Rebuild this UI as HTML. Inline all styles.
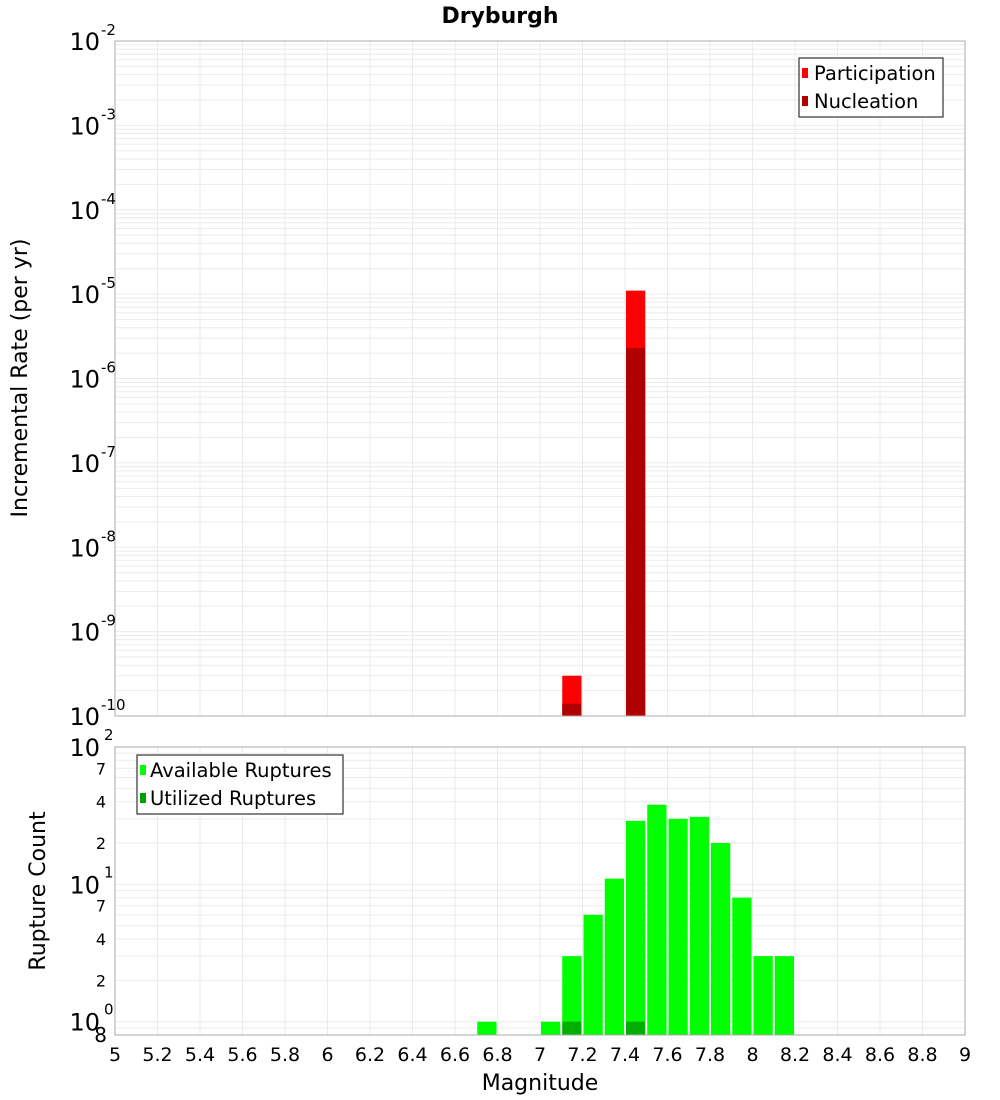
<!DOCTYPE html>
<html><head><meta charset="utf-8"><style>
body{margin:0;background:#fff;}
svg{display:block;font-family:"Liberation Sans","DejaVu Sans",sans-serif;}
</style></head><body>
<svg id="c" width="1000" height="1100" viewBox="0 0 1000 1100" xmlns="http://www.w3.org/2000/svg">
<text x="500" y="23" text-anchor="middle" font-size="22" font-weight="bold" font-family="DejaVu Sans, sans-serif">Dryburgh</text>
<g id="topPanel"></g>
<g id="botPanel"></g>
<text transform="translate(27,378) rotate(-90)" text-anchor="middle" font-size="22" font-family="DejaVu Sans, sans-serif">Incremental Rate (per yr)</text>
<text transform="translate(45,891) rotate(-90)" text-anchor="middle" font-size="22" font-family="DejaVu Sans, sans-serif">Rupture Count</text>
<text x="540" y="1090" text-anchor="middle" font-size="22" font-family="DejaVu Sans, sans-serif">Magnitude</text>
<g>
<rect x="799" y="58" width="144" height="59" fill="#fff" stroke="#333" stroke-width="1.2"/>
<rect x="802" y="68" width="6" height="10" fill="#ff0000"/>
<text x="814" y="80" font-size="19.5" font-family="DejaVu Sans, sans-serif">Participation</text>
<rect x="802" y="96" width="6" height="10" fill="#b00000"/>
<text x="814" y="108" font-size="19.5" font-family="DejaVu Sans, sans-serif">Nucleation</text>
</g>
<g>
<rect x="137" y="755" width="206" height="59" fill="#fff" stroke="#333" stroke-width="1.2"/>
<rect x="140" y="765" width="6" height="10" fill="#00ff00"/>
<text x="150" y="777" font-size="19.5" font-family="DejaVu Sans, sans-serif">Available Ruptures</text>
<rect x="140" y="793" width="6" height="10" fill="#00a000"/>
<text x="150" y="805" font-size="19.5" font-family="DejaVu Sans, sans-serif">Utilized Ruptures</text>
</g>
</svg>
<script>
const xTicks=[5,5.2,5.4,5.6,5.8,6,6.2,6.4,6.6,6.8,7,7.2,7.4,7.6,7.8,8,8.2,8.4,8.6,8.8,9];
const rateBins=[7.1,7.4];
const participation=[3e-10,1.1e-5];
const nucleation=[1.4e-10,2.3e-6];
const rateDecades=[-10,-9,-8,-7,-6,-5,-4,-3,-2];
const countBins=[6.7,7.0,7.1,7.2,7.3,7.4,7.5,7.6,7.7,7.8,7.9,8.0,8.1];
const available=[1,1,3,6,11,29,38,30,31,20,8,3,3];
const utilizedBins=[7.1,7.4];
const utilized=[1,1];
const countMinor=[2,4,7];

const NS='http://www.w3.org/2000/svg';
const L=115,R=965;
const X=m=>L+(m-5)/4*(R-L);
const T0=41,T1=716;
const YT=v=>T1-(Math.log10(v)+10)/8*(T1-T0);
const B0=747,B1=1035,BLo=Math.log10(0.8),BHi=2;
const YB=v=>B1-(Math.log10(v)-BLo)/(BHi-BLo)*(B1-B0);
function mk(p,tag,a){const e=document.createElementNS(NS,tag);for(const k in a)e.setAttribute(k,a[k]);p.appendChild(e);return e;}
const topG=document.getElementById('topPanel'),botG=document.getElementById('botPanel');

for(let d=-10;d<-2;d++)for(let k=1;k<10;k++){const y=YT(k*Math.pow(10,d));
const g=mk(topG,'line',{x1:L,x2:R,y1:y,y2:y,stroke:'#ebebeb','stroke-width':1});

}
for(const t of xTicks){const g=mk(topG,'line',{x1:X(t),x2:X(t),y1:T0,y2:T1,stroke:'#ebebeb'});

}
for(let d=-1;d<2;d++)for(let k=1;k<10;k++){const v=k*Math.pow(10,d);if(v<0.8)continue;const y=YB(v);
const g=mk(botG,'line',{x1:L,x2:R,y1:y,y2:y,stroke:'#ebebeb'});

}
for(const t of xTicks){const g=mk(botG,'line',{x1:X(t),x2:X(t),y1:B0,y2:B1,stroke:'#ebebeb'});

}

const bw=X(5.1)-X(5)-2;
participation.forEach((v,i)=>{const x=X(rateBins[i])+1;const b=mk(topG,'rect',{x:x,y:YT(v),width:bw,height:T1-YT(v),fill:'#ff0000'});

});
nucleation.forEach((v,i)=>{const x=X(rateBins[i])+1;const b=mk(topG,'rect',{x:x,y:YT(v),width:bw,height:T1-YT(v),fill:'#b00000'});

});
available.forEach((v,i)=>{const x=X(countBins[i])+1;const b=mk(botG,'rect',{x:x,y:YB(v),width:bw,height:B1-YB(v),fill:'#00ff00'});

});
utilized.forEach((v,i)=>{const x=X(utilizedBins[i])+1;const b=mk(botG,'rect',{x:x,y:YB(v),width:bw,height:B1-YB(v),fill:'#00a000','fill-opacity':0.85});

});

const f1=mk(topG,'rect',{x:L,y:T0,width:R-L,height:T1-T0,fill:'none',stroke:'#aaa'});


const f2=mk(botG,'rect',{x:L,y:B0,width:R-L,height:B1-B0,fill:'none',stroke:'#aaa'});



for(const d of rateDecades){const y=YT(Math.pow(10,d));
const t=mk(topG,'text',{x:100,y:y+9,'text-anchor':'end','font-size':24,'font-family':'DejaVu Sans, sans-serif'});t.textContent='10';


const s=mk(topG,'text',{x:101,y:y-6,'font-size':15,'font-family':'DejaVu Sans, sans-serif'});s.textContent=String(d);

}
[[1,'0'],[10,'1'],[100,'2']].forEach(([v,e])=>{const y=YB(v);
const t=mk(botG,'text',{x:100,y:y+9,'text-anchor':'end','font-size':24,'font-family':'DejaVu Sans, sans-serif'});t.textContent='10';


const s=mk(botG,'text',{x:104,y:y-7,'font-size':15,'font-family':'DejaVu Sans, sans-serif'});s.textContent=e;

});
for(let d=0;d<2;d++)for(const k of countMinor){const y=YB(k*Math.pow(10,d));
const t=mk(botG,'text',{x:106,y:y+6,'text-anchor':'end','font-size':16,'font-family':'DejaVu Sans, sans-serif'});t.textContent=String(k);

}
{const t=mk(botG,'text',{x:107,y:1042,'text-anchor':'end','font-size':20,'font-family':'DejaVu Sans, sans-serif'});t.textContent='8';

}
for(const m of xTicks){const t=mk(botG,'text',{x:X(m),y:1061,'text-anchor':'middle','font-size':19,'font-family':'DejaVu Sans, sans-serif'});t.textContent=String(m);

}
</script>
</body></html>
